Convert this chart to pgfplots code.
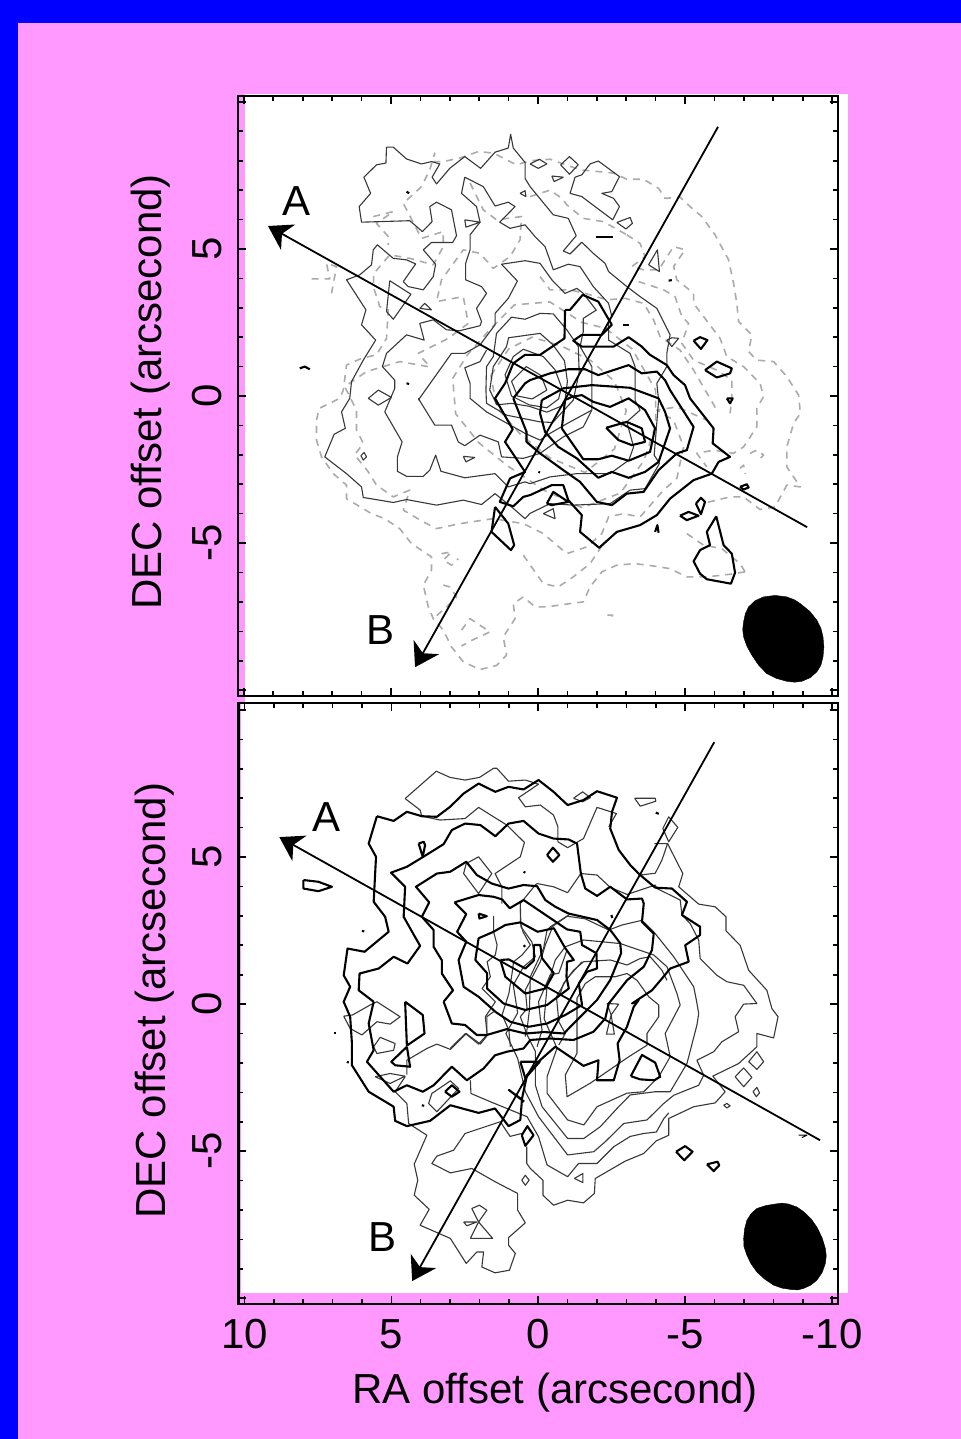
\documentclass[border=0pt]{standalone}
\usepackage{pgfplots}
\pgfplotsset{compat=1.18}
\usepackage{fontspec}
\setmainfont{Liberation Sans}
\usetikzlibrary{arrows.meta}
\definecolor{bgpink}{HTML}{FF99FF}
\definecolor{bgblue}{HTML}{0000FF}
\definecolor{thinc}{HTML}{383838}
\definecolor{dashc}{HTML}{ABABAB}
\newcommand{\bigf}{\fontsize{42bp}{44bp}\selectfont}
\tikzset{
 thn/.style={color=thinc,line width=1.1bp,line join=round},
 thk/.style={color=black,line width=2.1bp,line join=round},
 dsh/.style={color=dashc,line width=1.6bp,dash pattern=on 7bp off 6bp,line join=round},
 arw/.style={color=black,line width=1.8bp,-{Stealth[length=23bp,width=29bp,inset=7bp]}},
}
\pgfplotsset{panel/.style={
 scale only axis,anchor=south west,width=600bp,height=600bp,
 x dir=reverse,xmin=-10.2,xmax=10.2,
 xtick={10,5,0,-5,-10},minor x tick num=4,
 ytick={-10,-5,0,5,10},minor y tick num=4,
 yticklabels={,-5,0,5,},
 yticklabel style={rotate=90,anchor=south,font=\bigf,yshift=13bp},
 xticklabel style={font=\bigf,yshift=-12bp},
 tick align=inside,major tick length=8bp,minor tick length=5bp,
 every tick/.style={black,line width=1.6bp},
 axis line style={black,line width=2.1bp},
 ylabel style={font=\bigf},xlabel style={font=\bigf},
 ylabel={DEC offset (arcsecond)},
}}
\begin{document}
\begin{tikzpicture}
\useasboundingbox (0bp,0bp) rectangle (961bp,-1439bp);
\fill[bgpink] (0bp,0bp) rectangle (961bp,-1439bp);
\fill[bgblue] (0bp,0bp) rectangle (961bp,-23bp);
\fill[bgblue] (0bp,0bp) rectangle (18bp,-1439bp);
\fill[white] (245bp,-94bp) rectangle (848bp,-703bp);
\fill[white] (241bp,-703bp) rectangle (848bp,-1293bp);

% ---------- top panel
\begin{axis}[panel,at={(238bp,-696bp)},ymin=-10.2,ymax=10.2,xticklabels={},
 ylabel style={at={(axis description cs:0,0.5)},anchor=south,yshift=64bp,xshift=4bp}]
% dashed
\addplot[dsh] coordinates {(3.56,7.97)(3.22,7.97)(2.66,8.09)(2.03,8.31)(1.52,8.26)(0.73,7.86)(0.27,8.0)(-0.41,8.05)(-1.43,7.69)(-2.57,7.58)(-3.02,7.37)(-3.59,7.37)(-4.10,7.06)(-4.32,6.72)(-4.83,6.76)(-5.17,6.44)(-5.57,6.10)(-6.02,5.48)(-6.48,4.63)(-6.65,3.83)(-6.76,3.15)(-6.82,2.53)(-7.27,2.08)(-7.16,1.51)(-7.44,1.22)(-8.01,1.17)(-8.46,0.66)(-8.86,0.03)(-8.92,-0.59)(-8.69,-0.93)(-8.46,-1.73)(-8.46,-2.41)(-8.92,-3.09)(-8.46,-3.03)(-8.06,-3.77)(-7.55,-3.86)(-6.99,-3.43)(-6.53,-3.43)(-5.74,-3.62)};
\addplot[dsh] coordinates {(-7.04,-5.98)(-6.53,-6.06)(-5.74,-6.15)(-5.06,-6.15)(-4.49,-5.87)(-3.93,-5.78)(-3.30,-5.70)(-2.68,-5.75)(-2.17,-5.98)(-1.77,-6.49)(-1.54,-7.0)(-0.86,-7.09)(-0.30,-7.17)(0.10,-7.17)(0.50,-6.83)(0.84,-7.06)(0.78,-7.57)(1.18,-8.19)(1.07,-8.81)(1.41,-9.16)(1.97,-9.30)(2.54,-9.04)(2.94,-8.53)(3.22,-7.96)(3.56,-7.57)(3.73,-7.17)(3.90,-6.43)(3.62,-5.92)(3.62,-5.47)(4.30,-5.02)(4.70,-4.51)(5.21,-4.17)(5.66,-4.0)(6.51,-3.49)(6.51,-3.03)(6.96,-2.64)(7.36,-2.07)(7.53,-1.50)(7.53,-0.82)(7.44,-0.42)(6.74,-0.08)(6.62,0.20)(6.51,1.05)(6.0,1.28)(5.49,1.40)(5.15,1.96)(5.09,2.92)(5.38,3.04)(5.60,3.72)(5.58,4.17)(5.04,4.80)(4.36,4.68)(3.56,4.46)(3.22,5.08)(3.22,5.59)(3.96,5.36)(4.58,6.55)(3.96,7.12)(3.68,7.69)(3.51,8.26)(3.56,7.97)};
\addplot[dsh] coordinates {(7.70,3.98)(7.08,3.98)(7.19,4.51)(6.85,4.40)(7.02,3.49)};
\addplot[dsh] coordinates {(5.60,6.10)(4.92,6.27)(5.49,5.87)(5.09,5.42)(5.09,5.14)};
\addplot[dsh] coordinates {(2.31,7.24)(1.86,6.33)(1.41,5.99)(0.56,6.10)(0.61,5.31)(0.95,4.74)(1.52,4.34)(1.97,4.85)(2.54,4.97)(3.28,3.95)(3.45,3.21)(2.54,3.38)(2.37,2.47)(3.05,1.96)(4.07,1.45)(3.68,0.99)(4.70,1.17)(5.83,0.83)(6.57,0.32)(6.17,-0.48)(6.17,-1.16)(5.94,-1.61)(6.23,-2.0)(5.77,-2.58)(5.49,-3.03)(4.92,-3.43)(4.36,-3.20)(4.58,-3.88)(3.90,-4.28)(3.45,-4.51)(2.66,-4.34)(1.52,-4.17)(0.50,-4.34)(-0.07,-4.62)(-0.18,-4.68)(-0.98,-5.36)(-1.66,-5.13)(-2.17,-4.68)(-2.40,-4.11)(-2.90,-4.0)(-3.47,-4.11)(-4.27,-3.20)(-4.72,-2.80)(-4.95,-1.73)(-4.61,-0.82)(-4.04,-0.48)(-4.72,-0.37)(-5.74,-0.82)};
\addplot[dsh] coordinates {(-3.02,5.48)(-3.47,5.19)(-3.64,4.74)(-3.19,4.40)(-3.59,4.29)(-4.10,4.29)(-4.32,4.63)(-4.61,5.08)(-5.0,4.97)(-4.61,4.40)(-4.72,3.95)(-5.29,3.49)(-5.29,3.15)(-5.63,2.70)(-5.97,2.25)(-6.19,1.96)(-6.42,1.34)(-6.99,1.0)(-7.55,0.43)(-7.67,-0.02)(-7.44,-0.42)(-7.44,-1.05)(-6.99,-1.73)(-6.65,-1.95)(-5.97,-1.84)(-5.40,-1.95)(-5.74,-2.41)};
\addplot[dsh] coordinates {(0.27,6.78)(-0.41,7.0)(-0.81,6.72)(-0.98,6.50)(-1.54,6.04)(-2.22,5.93)(-3.02,5.48)};
\addplot[dsh] coordinates {(-3.42,3.89)(-4.27,3.61)(-4.66,3.38)(-4.89,2.70)(-5.12,2.47)(-4.89,1.79)(-5.29,1.22)(-6.08,0.88)(-6.59,0.54)(-6.59,-0.14)(-6.53,-0.59)};
\addplot[dsh] coordinates {(-0.07,4.06)(-0.41,3.61)(-1.09,3.61)(-1.60,3.49)(-2.34,3.27)(-2.96,3.32)(-3.59,3.15)(-3.93,2.59)(-4.15,2.02)(-4.83,1.56)(-5.29,0.88)(-6.08,-0.48)};
\addplot[dsh] coordinates {(2.90,0.6)(2.4,1.4)(1.6,2.3)(0.8,3.1)(-0.4,3.2)(-1.5,2.5)(-2.3,2.3)(-3.2,1.6)(-4.0,0.2)(-4.0,-1.0)(-3.6,-2.2)(-2.8,-3.3)(-1.5,-3.8)(-0.2,-3.2)(1.0,-2.4)(2.0,-1.6)(2.8,-0.6)(2.9,0.6)};
\addplot[dsh] coordinates {(1.6,0.7)(1.0,1.6)(0.2,2.0)(-0.8,1.7)(-1.8,1.2)(-2.6,0.5)(-3.0,-0.5)(-2.6,-1.8)(-1.6,-2.6)(-0.4,-2.1)(0.6,-1.3)(1.4,-0.4)(1.6,0.7)};
\addplot[dsh] coordinates {(-2.36,-7.45)(-2.54,-7.45)(-2.45,-7.57)};
\addplot[dsh] coordinates {(2.60,-7.96)(2.31,-7.57)(1.63,-8.02)(2.26,-8.31)(2.60,-8.5)};
\addplot[dsh] coordinates {(3.22,-6.43)(3.0,-6.49)(2.77,-6.83)(3.11,-7.17)(3.56,-7.57)};
\addplot[dsh] coordinates {(3.28,-5.36)(2.94,-5.30)(3.22,-5.58)(2.94,-5.75)(2.71,-5.53)};
\addplot[dsh] coordinates {(0.50,-5.41)(0.10,-5.98)(-0.18,-6.38)(-0.69,-6.49)(-1.20,-6.15)(-1.77,-5.70)(-2.17,-5.1)};
\addplot[dsh] coordinates {(-5.06,-4.68)(-5.63,-5.07)(-6.25,-5.19)(-6.87,-5.70)(-7.04,-5.98)};
\addplot[dsh] coordinates {(-7.21,-1.95)(-7.44,-1.84)(-7.67,-2.01)(-7.50,-2.18)};
\addplot[dsh] coordinates {(-6.87,-2.46)(-6.99,-2.35)(-7.05,-2.65)};
% thin
\addplot[thn] coordinates {(5.15,8.46)(4.92,8.46)(4.47,8.06)(3.96,7.89)(3.62,7.97)(3.34,7.89)(3.60,7.44)(3.45,7.21)(3.00,7.74)(2.49,8.14)(1.95,7.74)(1.46,8.29)(1.01,8.43)(0.93,8.90)(0.84,8.43)(0.44,7.94)(0.44,7.40)(0.27,7.12)(-0.52,6.16)(-1.03,6.04)(-1.30,5.45)(-0.86,4.93)(-1.09,4.83)(-1.49,5.23)(-1.88,4.85)(-2.28,4.51)(-2.40,4.23)(-3.02,3.72)(-3.47,3.38)(-4.04,2.98)(-4.49,2.08)(-4.38,1.45)(-4.38,1.0)(-4.04,0.43)(-4.10,-0.14)(-4.02,-1.16)(-3.95,-2.01)(-4.13,-2.29)(-3.64,-3.15)(-3.13,-3.20)(-2.45,-3.66)(-1.20,-3.71)(-0.41,-3.66)(0.27,-3.99)(0.44,-4.17)(0.90,-3.77)(1.46,-3.32)(1.92,-3.69)(2.54,-3.54)(3.45,-3.71)(4.47,-3.52)(4.92,-3.62)(5.94,-3.45)(6.0,-3.09)(6.51,-2.64)(7.25,-2.07)(6.93,-1.30)(6.55,-1.10)(6.68,-0.54)(6.40,-0.08)(6.34,0.49)(5.94,1.22)(5.52,1.90)(6.0,2.42)(5.85,2.93)(6.51,3.95)(6.06,4.12)(5.66,4.46)(5.60,4.97)(5.46,5.14)(4.92,4.68)(4.47,4.63)(4.16,4.49)(4.58,3.89)(4.41,3.72)(3.90,3.61)(3.56,4.06)(3.48,4.48)(3.90,4.97)(3.62,5.22)(2.90,5.22)(2.77,5.45)(2.94,6.33)(3.45,6.59)(3.68,6.44)(3.60,5.93)(3.93,5.59)(4.36,5.96)(6.0,5.91)(6.08,6.44)(5.69,6.89)(5.92,7.44)(5.49,7.86)(5.17,7.92)(5.15,8.46)};
\addplot[thn] coordinates {(2.49,7.44)(2.60,6.89)(2.09,6.44)(1.97,5.91)(2.31,5.48)(2.31,4.97)(2.46,4.51)(2.46,3.95)(1.92,3.72)(1.75,3.49)(2.09,2.98)(1.92,2.53)(1.97,2.39)(2.66,2.22)(3.11,2.25)(3.56,2.59)(4.02,2.47)(3.87,1.90)(4.47,2.08)(5.15,1.45)(5.29,1.0)(4.87,0.54)(4.87,0.26)(5.21,-0.54)(4.62,-1.56)(4.78,-2.07)(4.78,-2.56)(4.47,-2.73)(3.90,-2.73)(3.68,-2.52)(3.48,-2.01)(3.30,-2.56)(2.49,-2.78)(1.46,-2.64)(1.01,-3.09)(0.44,-2.92)(0.27,-2.98)(-0.41,-2.75)(-1.32,-2.64)(-2.45,-2.64)(-3.09,-2.18)(-3.25,-1.73)(-3.02,-0.88)(-3.47,-0.48)(-3.30,-0.14)(-3.30,1.0)(-3.13,1.45)(-2.40,1.90)(-2.40,2.58)(-2.51,2.70)(-2.40,3.15)(-1.88,3.72)(-1.43,4.40)(-1.03,4.48)(-0.52,4.29)(-0.24,5.08)(0.10,5.42)(0.44,5.82)(0.95,5.70)(1.30,5.91)(0.78,6.44)(1.01,6.59)(1.46,6.46)(1.86,7.12)(2.49,7.44)};
\addplot[thn] coordinates {(4.07,-0.14)(2.94,1.45)(2.49,1.45)(1.97,1.74)(1.46,2.42)(1.46,2.81)(1.01,3.32)(0.70,3.91)(1.24,4.48)(0.44,4.60)(-0.07,4.51)(-0.47,3.95)(-0.92,3.49)(-1.32,3.66)(-1.54,3.49)(-1.98,2.92)(-1.54,2.64)(-1.54,2.19)(-1.43,1.68)(-1.83,1.0)(-1.83,-0.14)(-1.83,-0.48)(-1.54,-1.05)(-0.86,-1.39)(-0.07,-1.95)(0.50,-2.12)(1.24,-2.07)(1.35,-1.56)(1.97,-1.33)(2.49,-1.69)(2.71,-1.56)(2.94,-0.99)(3.51,-0.99)(4.07,-0.08)};
\addplot[thn] coordinates {(-0.07,2.81)(0.44,2.61)(0.90,2.68)(1.41,2.13)(1.52,1.34)(1.75,1.0)(1.77,0.20)(1.75,-0.25)(1.07,-0.65)(-0.07,-0.88)(-0.5,-0.9)(-1.2,-0.14)(-1.4,0.8)(-1.37,1.68)(-0.98,2.25)(-0.52,2.79)(-0.07,2.81)};
\addplot[thn] coordinates {(1.75,1.56)(1.97,1.17)(2.49,0.96)(2.31,0.43)(2.31,0.20)(2.31,-0.08)(1.75,-0.54)(0.44,-1.27)(-0.07,-1.50)(-0.41,-1.27)(-1.09,-0.88)(-1.83,-0.48)};
\addplot[thn] coordinates {(-0.07,2.13)(1.0,1.98)(1.07,1.68)(1.52,1.0)(1.64,0.20)(1.40,-0.3)(0.9,-0.25)(0.3,-0.35)(-0.3,-0.55)(-0.9,-0.3)(-1.0,0.5)(-0.9,1.2)(-0.5,1.75)(-0.07,2.13)};
\addplot[thn] coordinates {(1.12,0.72)(0.84,1.34)(0.50,1.59)(-0.18,1.34)(-0.58,0.89)(-0.8,0.3)(-0.7,-0.1)(-0.3,-0.4)(0.3,-0.3)(0.9,0)(1.12,0.72)};
\addplot[thn] coordinates {(0.9,0.5)(0.4,1.0)(-0.1,0.7)(-0.3,0.2)(0.2,-0.1)(0.7,0)(0.9,0.5)};
\addplot[thn] coordinates {(-1.09,6.89)(-1.26,7.44)(-1.49,7.52)(-1.77,7.89)(-2.05,7.99)(-2.77,7.46)(-2.51,6.95)(-2.17,6.89)(-2.57,6.72)(-2.77,6.44)(-2.54,5.99)(-1.94,6.44)(-1.49,6.78)(-1.09,6.89)};
\addplot[thn] coordinates {(-0.47,7.48)(-0.86,7.44)(-0.55,7.29)(-0.47,7.48)};
\addplot[thn] coordinates {(-0.77,7.86)(-1.07,8.14)(-1.37,7.86)(-1.07,7.54)(-0.77,7.86)};
\addplot[thn] coordinates {(0.27,7.89)(-0.05,8.05)(-0.30,7.89)(-0.01,7.74)(0.27,7.89)};
\addplot[thn] coordinates {(-2.68,5.90)(-3.13,6.07)(-3.21,5.87)(-2.99,5.68)(-2.68,5.90)};
\addplot[thk] coordinates {(-1.98,5.42)(-2.54,5.42)};
\addplot[thn] coordinates {(-3.76,4.46)(-4.06,4.97)(-4.13,4.23)(-3.76,4.46)};
\addplot[thk] coordinates {(-4.44,3.92)(-4.55,3.94)};
\addplot[thk] coordinates {(-2.90,2.42)(-3.08,2.42)};
\addplot[thn] coordinates {(-4.38,1.90)(-4.55,1.98)(-4.78,1.96)(-4.55,1.68)(-4.38,1.90)};
\addplot[thn] coordinates {(2.49,5.99)(1.97,5.91)(2.45,5.74)(2.49,5.99)};
\addplot[thn] coordinates {(0.61,6.89)(0.44,6.98)(0.41,6.78)(0.61,6.89)};
\addplot[thn] coordinates {(5.04,3.92)(4.32,3.46)(4.92,2.61)(5.15,2.87)(5.04,3.92)};
\addplot[thn] coordinates {(4.02,2.98)(3.85,3.15)(3.62,2.93)(4.02,2.98)};
\addplot[thk] coordinates {(4.47,6.95)(4.38,6.89)};
\addplot[thk] coordinates {(8.10,0.94)(7.93,1.0)(7.76,0.91)};
\addplot[thk] coordinates {(4.47,0.43)(4.38,0.41)};
\addplot[thn] coordinates {(5.77,-0.08)(5.43,0.20)(4.98,-0.05)(5.43,-0.31)(5.77,-0.08)};
\addplot[thn] coordinates {(6.02,-2.03)(5.91,-1.92)(5.83,-2.07)(5.94,-2.18)(6.02,-2.03)};
\addplot[thn] coordinates {(2.54,-2.05)(2.15,-2.09)(2.45,-2.24)(2.54,-2.05)};
\addplot[thk] coordinates {(-0.01,-2.58)(-0.07,-2.60)};
\addplot[thn] coordinates {(-0.18,-4.0)(-0.52,-3.83)(-0.58,-4.17)(-0.18,-4.0)};
% thick
\addplot[thk] coordinates {(-0.92,2.93)(-1.09,2.93)(-1.52,3.44)(-2.05,3.21)(-2.51,2.42)(-2.17,2.08)(-1.49,2.08)(-1.20,1.88)(-1.49,1.68)(-2.57,1.68)(-3.08,2.0)(-3.53,1.68)(-3.81,1.40)(-4.38,1.05)(-4.61,0.71)(-5.0,0.37)(-5.17,-0.08)(-5.97,-1.10)(-5.94,-1.61)(-6.53,-2.07)(-6.14,-2.24)(-5.91,-2.64)(-5.29,-2.86)(-4.49,-3.49)(-4.04,-4.05)(-3.47,-4.39)(-2.68,-4.62)(-2.08,-5.16)(-1.43,-4.62)(-1.49,-4.05)(-1.03,-3.54)(-0.86,-3.03)(-0.47,-3.03)(0.27,-3.37)(0.50,-3.43)(0.84,-3.75)(1.30,-3.60)(0.95,-2.80)(0.44,-2.58)(1.12,-1.56)(0.86,-1.13)(1.46,-0.08)(1.12,0.43)(0.84,1.11)(0.44,1.40)(-0.07,1.40)(-0.90,1.96)(-0.92,2.93)};
\addplot[thk] coordinates {(0.84,-0.08)(0.39,-1.22)(0.39,-1.56)(-0.07,-1.95)(-0.86,-2.52)(-1.43,-2.92)(-2.0,-3.60)(-2.51,-3.71)(-3.02,-3.32)(-3.59,-3.26)(-4.10,-2.52)(-4.72,-1.95)(-5.06,-1.84)(-5.29,-1.05)(-4.49,0.20)(-4.32,0.54)(-4.04,0.83)(-3.53,0.77)(-3.08,1.05)(-2.05,0.71)(-1.60,0.91)(-1.03,0.91)(-0.41,0.77)(0.27,0.54)(0.44,0.43)(0.84,-0.08)};
\addplot[thk] coordinates {(-0.13,-0.14)(-0.07,-0.59)(-0.24,-1.22)(-0.69,-1.73)(-1.32,-2.12)(-2.05,-2.78)(-2.51,-2.58)(-3.08,-2.78)(-3.64,-2.58)(-4.10,-2.24)(-4.49,-1.10)(-4.32,-0.54)(-4.10,-0.08)(-3.13,0.28)(-1.83,0.37)(-0.86,0.26)(-0.13,-0.14)};
\addplot[thk] coordinates {(-0.81,-1.10)(-0.92,-0.14)(-1.15,-0.03)(-1.49,0.03)(-1.88,-0.20)(-2.45,-0.37)(-3.08,-0.08)(-3.64,-0.48)(-3.98,-1.10)(-3.81,-1.90)(-3.08,-2.20)(-2.51,-2.03)(-2.05,-2.15)(-1.54,-2.15)(-0.81,-1.10)};
\addplot[thk] coordinates {(-2.32,-1.08)(-3.02,-0.88)(-3.53,-1.10)(-3.64,-1.56)(-3.19,-1.67)(-2.74,-1.50)(-2.32,-1.08)};
\addplot[thk] coordinates {(-5.29,1.88)(-5.51,2.0)(-5.76,1.90)(-5.54,1.60)(-5.29,1.88)};
\addplot[thk] coordinates {(-5.68,0.88)(-6.08,1.17)(-6.59,0.94)(-6.53,0.77)(-6.08,0.63)(-5.68,0.88)};
\addplot[thk] coordinates {(-6.42,-0.08)(-6.62,-0.08)(-6.53,-0.25)(-6.42,-0.08)};
\addplot[thk] coordinates {(1.46,-3.77)(1.58,-4.62)(0.92,-5.24)(0.81,-5.07)(1.01,-4.34)(1.46,-3.77)};
\addplot[thk] coordinates {(-0.30,-3.66)(-0.52,-3.26)(-1.03,-3.60)(-0.47,-3.71)(-0.30,-3.66)};
\addplot[thk] coordinates {(-6.87,-3.09)(-7.10,-3.0)(-7.16,-3.11)(-6.99,-3.18)(-6.87,-3.09)};
\addplot[thk] coordinates {(-4.83,-4.07)(-5.12,-3.94)(-5.46,-4.07)(-5.06,-4.22)(-4.83,-4.07)};
\addplot[thk] coordinates {(-5.37,-3.66)(-5.54,-3.46)(-5.68,-3.60)(-5.54,-4.02)(-5.37,-3.66)};
\addplot[thk] coordinates {(-6.06,-4.09)(-6.31,-5.07)(-6.59,-5.36)(-6.70,-6.01)(-6.56,-6.38)(-5.74,-6.23)(-5.51,-6.04)(-5.29,-5.62)(-5.51,-5.24)(-5.85,-5.07)(-5.74,-4.62)(-6.06,-4.09)};
\addplot[thk] coordinates {(-3.98,-4.62)(-4.06,-4.39)(-4.10,-4.65)};
% arrows and beam
\addplot[arw] coordinates {(-9.15,-4.46)(9.18,5.78)};
\addplot[arw] coordinates {(-6.12,9.15)(4.18,-9.22)};
\addplot[fill=black,draw=black] coordinates {(-7.67,-6.83)(-8.06,-6.78)(-8.46,-6.83)(-8.72,-6.93)(-8.92,-7.06)(-9.24,-7.32)(-9.48,-7.62)(-9.62,-7.9)(-9.69,-8.19)(-9.72,-8.53)(-9.69,-8.87)(-9.62,-9.15)(-9.48,-9.38)(-9.25,-9.58)(-8.97,-9.70)(-8.72,-9.73)(-8.46,-9.70)(-8.10,-9.60)(-7.78,-9.44)(-7.5,-9.15)(-7.27,-8.81)(-7.1,-8.5)(-6.99,-8.19)(-6.96,-7.93)(-6.99,-7.68)(-7.05,-7.4)(-7.16,-7.17)(-7.38,-6.96)} --cycle;
\node[font=\bigf] at (axis cs:8.2,6.63) {A};
\node[font=\bigf] at (axis cs:5.37,-7.96) {B};
\end{axis}

% ---------- bottom panel
\begin{axis}[panel,at={(238.5bp,-1304bp)},width=599.5bp,height=601bp,ymin=-10.2,ymax=10.24,
 xticklabels={10,5,0,-5,-10},xlabel={RA offset (arcsecond)},
 xlabel style={yshift=-17bp,xshift=17bp},
 ylabel style={at={(axis description cs:0,0.5)},anchor=south,yshift=61bp,xshift=3bp}]
% thin
\addplot[thn] coordinates {(4.53,6.99)(3.47,7.92)(3.0,7.71)(2.49,7.62)(2.0,7.71)(1.52,8.02)(1.41,8.02)(1.01,7.58)(0.44,7.62)(-0.01,7.48)(0.67,7.02)(0.44,6.71)(-0.07,6.77)(-0.52,6.43)(-0.67,6.03)(-0.67,5.52)(-1.0,5.32)(-1.54,5.63)(-2.0,6.69)(-2.66,6.48)(-2.40,6.03)};
\addplot[thn] coordinates {(4.53,6.99)(4.02,6.60)(3.96,6.39)(3.34,6.26)(2.49,6.31)(2.03,6.69)(1.52,6.37)(1.07,6.09)(0.47,5.50)(0.61,5.01)(1.47,4.44)(1.24,3.99)(1.24,3.42)};
\addplot[thn] coordinates {(2.45,4.78)(2.54,4.44)(2.03,3.76)(1.58,4.44)(2.03,5.01)(2.45,4.78)};
\addplot[thn] coordinates {(-3.95,5.46)(-4.40,5.46)(-4.21,4.9)(-3.98,4.45)(-3.47,4.39)};
\addplot[thn] coordinates {(-4.40,5.46)(-4.92,4.44)(-4.78,3.99)(-5.46,3.40)(-6.02,3.31)(-6.39,2.97)(-6.39,2.49)(-6.87,2.0)(-7.16,1.15)(-7.78,0.47)(-7.95,-0.15)(-8.16,-0.43)(-8.01,-1.15)(-7.44,-1.0)(-7.44,-1.45)(-6.82,-2.02)(-5.94,-2.45)(-6.36,-2.98)(-6.02,-3.36)(-5.29,-3.49)(-4.44,-3.89)(-4.44,-4.46)(-4.02,-4.65)(-3.59,-5.08)(-2.96,-5.34)(-1.94,-5.93)(-1.91,-6.44)(-1.54,-6.76)(-1.0,-6.67)(-0.52,-6.84)(-0.16,-6.50)(-0.16,-5.99)(0.27,-5.59)(0.39,-5.42)(0.39,-4.85)};
\addplot[thn] coordinates {(0.70,-6.44)(0.70,-7.01)(0.44,-7.44)(1.01,-7.94)(1.01,-8.2)(0.78,-8.48)(0.98,-9.05)(1.47,-9.14)(1.92,-8.94)(1.86,-8.43)(2.09,-8.43)(2.45,-8.82)(2.99,-7.97)(4.02,-7.52)(3.71,-6.98)(4.22,-6.50)(4.10,-5.99)(4.22,-5.44)(3.79,-4.46)(4.41,-4.06)(4.47,-3.38)(4.87,-2.98)(4.53,-2.47)};
\addplot[thn] coordinates {(0.70,-6.44)(1.47,-6.04)(2.26,-5.59)(2.99,-5.74)(3.62,-5.42)(3.45,-5.17)(2.88,-4.97)(2.49,-4.40)(1.29,-4.0)(0.96,-4.5)(0.56,-4.4)};
\addplot[thn] coordinates {(5.55,-2.47)(5.04,-2.36)(4.53,-2.45)(5.04,-2.70)(5.55,-2.47)};
\addplot[thn] coordinates {(4.47,-2.4)(4.47,-1.91)(3.79,-1.51)(3.45,-1.36)(2.99,-1.54)(2.45,-1.0)(1.97,-1.36)(1.75,-1.09)(1.75,-0.43)(1.52,-0.26)};
\addplot[thn] coordinates {(6.62,-0.41)(6.32,-0.37)(5.72,-0.03)(5.49,0.08)(4.70,-0.43)(5.04,-0.68)(5.49,-0.60)(6.0,-1.05)(6.40,-0.83)(6.62,-0.41)};
\addplot[thn] coordinates {(5.60,-1.45)(5.38,-1.13)(4.87,-1.34)(4.92,-1.57)(5.49,-1.68)(5.60,-1.45)};
\addplot[thn] coordinates {(3.73,-3.38)(3.62,-3.04)(2.99,-2.61)(2.71,-2.87)(3.45,-3.66)(3.73,-3.38)};
\addplot[thn] coordinates {(2.54,-7.41)(2.09,-7.41)(2.43,-7.54)(2.54,-7.41)};
\addplot[thn] coordinates {(2.31,-7.97)(2.03,-7.41)(2.26,-6.95)(2.0,-6.84)(1.75,-7.01)(2.03,-7.41)(1.55,-7.97)(2.31,-7.97)};
\addplot[thn] coordinates {(0.56,-5.99)(0.44,-5.82)(0.31,-5.99)(0.44,-6.16)(0.56,-5.99)};
\addplot[thn] coordinates {(-1.32,-0.99)(-1.32,-1.67)(-0.92,-2.41)(-0.98,-3.15)(-1.77,-2.69)(-3.08,-1.79)(-3.70,-1.40)(-3.70,-1.0)(-4.10,-0.43)(-4.10,-0.03)(-3.76,0.25)(-3.36,0.81)(-3.02,1.04)(-2.62,0.93)(-1.94,0.93)(-1.60,0.70)(-1.32,0.2)(-1.32,-0.99)};
\addplot[thn] coordinates {(-0.30,-2.47)(-0.30,-3.03)(-1.0,-3.94)(-1.55,-4.11)(-2.0,-3.49)(-3.02,-3.03)(-3.59,-2.98)(-4.10,-2.47)(-4.49,-1.79)(-4.32,-1.0)(-4.83,-0.03)(-4.72,0.36)(-4.38,1.27)(-3.93,1.67)(-2.79,2.06)(-1.54,2.18)(-0.92,1.95)(-0.58,1.50)(-0.3,0.6)(-0.2,-0.5)(-0.64,-1.50)(-0.30,-2.47)};
\addplot[thn] coordinates {(-0.75,0.36)(-0.86,0.70)(-1.2,1.15)(-1.54,1.44)(-2.45,1.50)(-3.02,1.33)(-3.47,1.55)(-3.81,1.61)(-4.21,1.15)(-4.38,0.81)};
\addplot[thn] coordinates {(0.10,-2.30)(0.10,-2.75)(-0.13,-3.49)(-1.0,-4.57)(-1.55,-4.57)(-2.11,-4.17)(-2.68,-3.55)(-3.13,-3.09)(-3.98,-2.98)(-4.49,-2.98)(-5.06,-2.02)(-5.40,-0.71)(-5.46,-0.32)(-5.38,0.14)(-5.29,0.59)(-4.61,1.61)(-3.93,2.46)(-3.53,2.85)(-2.85,2.69)(-2.40,2.52)(-1.6,2.9)(-0.98,2.99)(-0.41,2.63)(-0.30,2.52)(-0.18,1.89)(0.27,0.93)(0.30,-0.2)(0.4,-1.0)(0.10,-1.6)(0.10,-2.30)};
\addplot[thn] coordinates {(0.44,-2.98)(-0.01,-3.83)(-1.0,-5.13)(-1.89,-5.02)(-2.28,-4.68)(-2.91,-4.06)(-3.70,-3.94)(-4.27,-3.38)(-4.61,-3.1)(-5.46,-2.76)(-5.63,-2.42)(-5.40,-1.91)(-5.97,-1.62)(-6.25,-1.28)(-6.82,-0.94)(-6.70,-0.43)(-6.99,0)(-7.44,0.02)(-6.99,0.64)(-6.42,0.76)(-6.08,0.98)(-5.51,1.55)(-5.46,2.18)(-5.17,2.74)(-4.89,3.03)(-4.83,3.54)(-4.04,3.93)(-3.98,4.05)(-3.02,3.73)(-2.45,3.97)(-2.0,4.39)(-1.45,4.44)(-1.0,3.79)(-0.52,3.99)(0.04,4.10)(0.10,4.05)(0.61,3.42)(0.59,2.63)(0.22,2.12)(0.10,1.61)(0.50,1.27)(0.85,0.65)(0.7,-0.3)(1.1,-1.0)(0.7,-1.85)(0.44,-2.98)};
\addplot[thn] coordinates {(2.31,-2.59)(2.29,-3.04)(1.63,-3.32)(0.38,-3.83)(-0.01,-4.51)(-0.30,-5.47)(-1.0,-5.87)(-1.37,-5.42)(-2.0,-5.42)(-2.57,-4.85)(-3.13,-4.5)(-3.59,-4.4)(-4.02,-4.35)(-4.27,-3.9)(-4.44,-3.7)};
\addplot[thn] coordinates {(1.52,3.0)(1.52,2.46)(1.40,2.01)(1.46,1.67)(1.74,1.44)(1.63,0.93)(1.91,0.53)(1.46,0.08)(1.80,-0.43)(1.74,-1.05)};
\addplot[thn] coordinates {(0.61,3.43)(0.61,2.80)(0.52,2.46)(0.27,2.01)(0.55,1.67)(0.84,1.44)(0.89,1.05)(1.0,0.36)(1.23,-0.37)(1.0,-0.88)(0.95,-1.45)};
\addplot[thn] coordinates {(-0.47,2.58)(-0.24,2.01)(-0.07,1.44)(0.44,0.48)(0.38,-0.15)(0.61,-0.43)(0.44,-0.88)(0.44,-1.11)};
\addplot[thn] coordinates {(-0.98,1.84)(-0.70,1.05)(-0.41,1.0)(-0.01,0.08)(-0.07,-0.49)(-0.13,-0.88)(0.04,-1.45)};
\addplot[thn] coordinates {(-1.49,1.44)(-0.98,0.87)(-0.62,0.25)(-0.70,-0.60)(-0.92,-1.0)(-0.70,-1.39)};
\addplot[thn] coordinates {(-1.04,3.03)(-0.64,2.75)(-0.41,2.58)};
\addplot[thn] coordinates {(2.99,-1.5)(2.48,-1.0)(2.03,-1.36)(1.75,-1.05)};
\addplot[thn] coordinates {(-2.34,0.02)(-2.74,0)(-2.48,-0.37)(-2.59,-1.02)(-2.32,-1.02)(-2.48,-0.37)(-2.34,0.02)};
\addplot[thn] coordinates {(-1.23,-5.93)(-1.52,-5.76)(-1.52,-6.07)(-1.23,-5.93)};
\addplot[thn] coordinates {(-6.70,-2.47)(-6.99,-2.17)(-7.27,-2.49)(-6.99,-2.81)(-6.70,-2.47)};
\addplot[thn] coordinates {(-7.16,-1.96)(-7.44,-1.62)(-7.67,-1.96)(-7.44,-2.22)(-7.16,-1.96)};
\addplot[thn] coordinates {(-7.31,-2.98)(-7.44,-2.83)(-7.53,-3.02)(-7.42,-3.15)(-7.31,-2.98)};
\addplot[thn] coordinates {(-6.31,-3.44)(-6.42,-3.38)(-6.53,-3.46)(-6.42,-3.53)(-6.31,-3.44)};
\addplot[thn] coordinates {(-1.20,7.0)(-1.51,7.22)(-1.77,7.02)(-1.51,6.88)(-1.20,7.0)};
\addplot[thn] coordinates {(-3.28,7.0)(-3.98,7.0)(-4.0,6.90)(-3.47,6.73)(-3.28,7.0)};
\addplot[thn] coordinates {(-4.24,5.97)(-4.44,6.37)(-4.75,6.01)(-4.44,5.52)(-4.24,5.97)};
% thick
\addplot[thk] coordinates {(5.49,6.39)(4.92,6.23)(4.47,6.54)(3.96,6.39)(3.45,6.37)(3.0,6.71)(2.54,7.16)(2.03,7.50)(1.46,7.22)(1.01,7.39)(0.50,7.30)(-0.01,7.62)(-0.52,7.22)(-1.0,6.77)(-1.54,6.94)(-2.0,7.24)(-2.68,7.02)(-2.51,6.54)(-2.45,5.97)(-2.74,5.24)(-3.13,4.73)(-3.47,4.39)(-3.98,3.96)(-4.55,3.93)(-5.06,3.48)(-4.89,3.03)(-5.51,2.63)(-5.51,2.35)(-5.0,2.0)(-5.12,1.44)(-4.49,1.21)(-4.21,0.87)(-3.87,0.47)(-3.19,0.02)(-3.42,0.14)(-3.25,-0.09)(-3.02,-0.77)(-2.70,-1.34)(-2.77,-1.91)(-2.57,-2.59)(-2.0,-2.59)(-2.05,-1.91)(-1.54,-2.10)(-0.58,-1.45)(-0.07,-1.90)(0.38,-2.41)(0.55,-3.20)(0.61,-3.94)(1.01,-4.15)(1.47,-3.55)(2.03,-3.70)(2.99,-3.44)(3.68,-3.97)(4.47,-4.15)(4.87,-3.97)(4.92,-3.49)(5.77,-2.98)(6.34,-2.08)(6.34,-1.34)(6.40,-0.43)(6.62,0.08)(6.40,0.59)(6.62,0.98)(6.49,1.89)(5.91,1.78)(5.09,2.46)(5.21,2.97)(5.60,3.48)(5.52,5.01)(5.77,5.46)(5.49,6.39)};
\addplot[thk] coordinates {(5.60,0.08)(6.11,0.47)(6.08,1.04)(5.43,1.21)(4.92,1.61)(4.45,1.38)(4.02,1.98)(4.58,2.97)(4.53,3.99)(5.01,4.47)(4.47,4.67)(3.91,5.01)(3.22,5.44)(2.94,5.92)(2.49,6.14)(1.97,6.09)(1.46,5.71)(1.01,6.14)(0.50,6.23)(-0.01,5.80)(-0.52,5.63)(-1.03,5.60)(-1.32,5.46)(-1.45,4.44)(-1.60,3.93)(-2.0,3.68)(-2.45,3.99)(-3.02,3.56)(-3.53,3.59)(-3.59,3.42)(-3.53,2.80)(-3.93,2.40)(-3.87,1.84)(-3.59,1.27)(-3.02,0.81)(-2.40,0.02)(-2.28,-0.49)(-1.88,-0.94)(-1.20,-1.22)(-0.41,-1.17)(0.27,-1.22)(0.50,-1.51)(1.07,-1.62)(1.47,-1.74)(1.86,-2.19)(2.43,-2.59)(2.94,-2.13)(3.56,-2.76)(3.93,-2.98)(4.47,-2.76)(4.92,-2.98)(5.83,-1.96)(5.60,-1.57)(5.77,-0.66)(5.60,0.08)};
\addplot[thk] coordinates {(3.22,0.08)(2.90,0.47)(3.28,1.04)(3.28,1.49)(3.56,1.95)(3.56,2.52)(3.96,2.97)(3.71,3.46)(4.16,3.99)(3.45,4.44)(3.0,4.50)(2.45,4.84)(2.09,4.39)(1.58,4.10)(1.01,3.93)(0.50,4.05)(0.04,4.01)(-0.24,3.54)(-0.58,3.31)(-1.03,3.08)(-2.0,2.86)(-2.45,2.52)(-2.79,2.07)(-2.82,1.73)(-2.45,0.82)(-2.0,0.14)(-1.49,-0.37)(-0.87,-1.0)(-0.2,-0.95)(0.44,-1.0)(1.07,-0.85)(1.75,-1.05)(2.09,-1.05)(2.49,-0.71)(2.94,-0.66)(3.22,0.08)};
\addplot[thk] coordinates {(2.85,3.46)(2.45,3.06)(2.76,2.46)(2.45,2.12)(2.71,1.50)(2.54,0.59)(2.03,0.25)(1.46,-0.26)(0.95,-0.60)(0.32,-0.77)(-0.30,-0.66)(-0.92,-0.37)(-1.49,-0.03)(-1.38,0.70)(-1.66,1.10)(-2.0,1.21)(-1.98,1.73)(-1.49,2.01)(-1.43,2.46)(-0.98,2.54)(0.50,3.54)(0.97,3.26)(1.23,3.56)(1.52,3.65)(2.03,3.71)(2.85,3.46)};
\addplot[thk] coordinates {(2.03,2.24)(2.14,1.50)(1.74,1.05)(1.74,0.53)(1.18,0.02)(0.44,-0.20)(-0.30,-0.03)(-1.04,0.53)(-0.96,0.93)(-0.98,1.44)(-1.21,1.50)(-0.92,1.90)(-0.53,2.58)(0.02,2.46)(0.61,2.78)(1.12,2.69)(1.52,2.46)(2.03,2.24)};
\addplot[thk] coordinates {(1.29,1.50)(1.12,0.93)(0.44,0.36)(-0.24,0.53)(-0.53,1.05)(-0.13,1.56)(-0.07,2.01)(0.15,2.01)(0.15,1.48)(0.44,1.21)(1.0,1.52)(1.29,1.50)};
\addplot[thk] coordinates {(7.99,4.22)(7.48,4.16)(7.02,3.99)(7.48,3.84)(7.99,3.93)(7.99,4.22)};
\addplot[thk] coordinates {(4.07,5.46)(3.90,5.52)(3.85,5.41)(3.93,5.01)(4.07,5.46)};
\addplot[thk] coordinates {(2.03,3.08)(1.75,2.99)(2.0,2.91)(2.03,3.08)};
\addplot[thk] coordinates {(6.0,2.49)(5.92,2.47)};
\addplot[thk] coordinates {(0.50,4.5)(0.44,4.47)};
\addplot[thk] coordinates {(0.50,2.0)(0.44,1.95)};
\addplot[thk] coordinates {(-0.30,5.07)(-0.50,5.32)(-0.72,5.07)(-0.50,4.84)(-0.30,5.07)};
\addplot[thk] coordinates {(-4.0,6.51)(-4.1,6.47)};
\addplot[thk] coordinates {(-2.49,3.03)(-2.52,2.93)};
\addplot[thk] coordinates {(4.53,0.08)(3.93,-0.37)(3.87,-1.0)(4.47,-1.41)(4.53,0.08)};
\addplot[thk] coordinates {(4.47,-1.45)(5.0,-1.96)(4.87,-2.08)(4.36,-2.13)(4.47,-1.45)};
\addplot[thk] coordinates {(3.17,-2.98)(2.94,-2.76)(2.68,-2.98)(2.94,-3.15)(3.17,-2.98)};
\addplot[thk] coordinates {(3.96,-3.44)(3.88,-3.46)};
\addplot[thk] coordinates {(6.51,-1.96)(6.45,-1.99)};
\addplot[thk] coordinates {(6.96,-0.99)(6.88,-0.99)};
\addplot[thk] coordinates {(0.61,-1.96)(-0.05,-1.96)(0.44,-2.52)(0.61,-1.96)};
\addplot[thk] coordinates {(0.55,-3.25)(1.0,-2.92)(0.48,-3.32)};
\addplot[thk] coordinates {(0.56,-4.46)(0.37,-4.15)(0.16,-4.46)(0.44,-4.82)(0.56,-4.46)};
\addplot[thk] coordinates {(-3.15,-2.45)(-3.53,-1.73)(-3.98,-1.99)(-4.15,-2.47)(-3.95,-2.59)(-3.47,-2.56)(-3.15,-2.45)};
\addplot[thk] coordinates {(-4.69,-5.02)(-5.0,-4.83)(-5.25,-5.02)(-4.97,-5.31)(-4.69,-5.02)};
\addplot[thk] coordinates {(-5.74,-5.45)(-6.10,-5.36)(-6.16,-5.48)(-5.97,-5.68)(-5.74,-5.45)};
\addplot[thk,line width=1bp] coordinates {(-8.86,-4.46)(-9.14,-4.46)(-8.97,-4.54)};
% arrows and beam
\addplot[arw] coordinates {(-9.59,-4.63)(8.81,5.68)};
\addplot[arw] coordinates {(-5.99,8.91)(4.29,-9.42)};
\addplot[fill=black,draw=black] coordinates {(-8.06,-6.80)(-8.3,-6.77)(-8.52,-6.80)(-8.8,-6.9)(-9.03,-7.06)(-9.28,-7.3)(-9.48,-7.58)(-9.66,-7.95)(-9.77,-8.31)(-9.80,-8.56)(-9.77,-8.82)(-9.66,-9.13)(-9.48,-9.39)(-9.27,-9.56)(-9.03,-9.67)(-8.83,-9.72)(-8.63,-9.71)(-8.3,-9.66)(-8.01,-9.56)(-7.7,-9.35)(-7.44,-9.11)(-7.24,-8.83)(-7.10,-8.54)(-7.0,-8.25)(-6.99,-7.97)(-7.02,-7.65)(-7.10,-7.35)(-7.25,-7.12)(-7.44,-6.95)(-7.75,-6.85)} --cycle;
\node[font=\bigf] at (axis cs:7.21,6.36) {A};
\node[font=\bigf] at (axis cs:5.31,-7.93) {B};
\end{axis}
\end{tikzpicture}
\end{document}
